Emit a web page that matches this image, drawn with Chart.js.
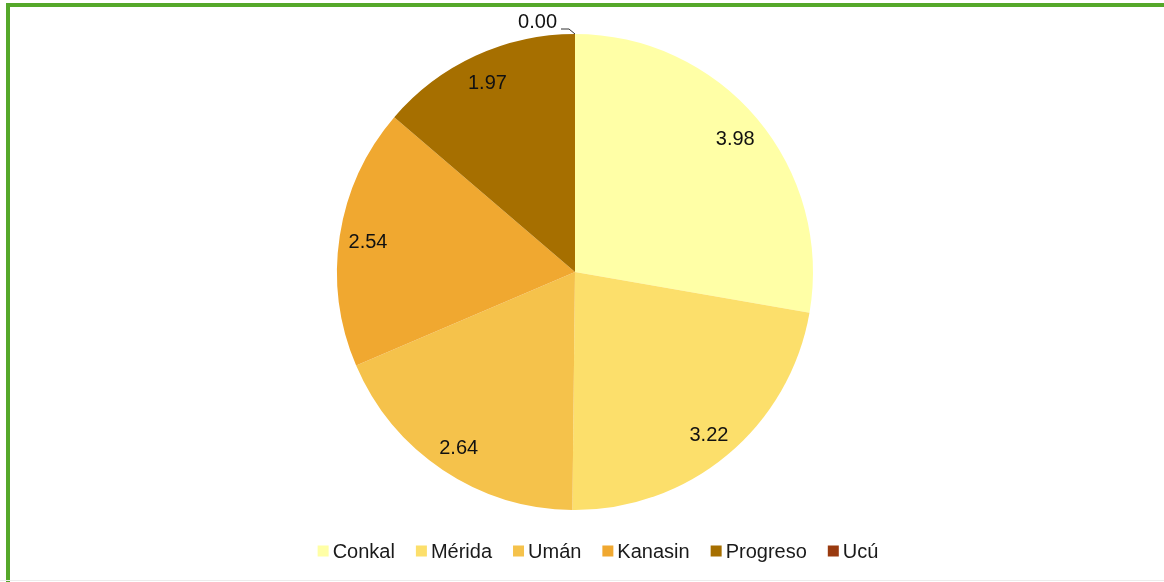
<!DOCTYPE html>
<html>
<head>
<meta charset="utf-8">
<script src="https://cdn.jsdelivr.net/npm/chart.js@4/dist/chart.umd.min.js"></script>
<style>
  html, body { margin: 0; padding: 0; background: #ffffff; overflow: hidden; }
  body { width: 1164px; height: 582px; position: relative; }
  #frame {
    position: absolute; left: 6px; top: 3px; width: 1200px; height: 620px;
    border: 4px solid #55a82a; box-sizing: border-box;
  }
  #baseLine { position: absolute; left: 0; top: 580px; width: 1164px; height: 1px; background: #ececec; }
  #wrap { position: absolute; left: 0; top: 0; width: 1164px; height: 582px; }
</style>
</head>
<body>
<div id="frame"></div>
<div id="baseLine"></div>
<div id="wrap"><canvas id="pie"></canvas></div>
<script>
const categories = ["Conkal", "Mérida", "Umán", "Kanasin", "Progreso", "Ucú"];
const values = [3.98, 3.22, 2.64, 2.54, 1.97, 0.00];
const colors = ["#ffffa6", "#fcdf6b", "#f5c24b", "#f0a830", "#a66f00", "#993a0f"];

const FONT = "Liberation Sans, Arial, sans-serif";

// value labels inside slices, zero values outside with a small leader line
const sliceLabels = {
  id: "sliceLabels",
  afterDatasetsDraw(chart) {
    const ctx = chart.ctx;
    const meta = chart.getDatasetMeta(0);
    ctx.save();
    ctx.font = "20px " + FONT;
    ctx.fillStyle = "#111111";
    meta.data.forEach((arc, i) => {
      const p = arc.getProps(["x", "y", "startAngle", "endAngle", "outerRadius"], true);
      const mid = (p.startAngle + p.endAngle) / 2;
      const text = values[i].toFixed(2);
      if (values[i] === 0) {
        const ex = p.x + Math.cos(mid) * p.outerRadius;
        const ey = p.y + Math.sin(mid) * p.outerRadius;
        ctx.strokeStyle = "#333333";
        ctx.lineWidth = 1;
        ctx.beginPath();
        ctx.moveTo(ex, ey);
        ctx.lineTo(ex - 6, ey - 5);
        ctx.lineTo(ex - 14, ey - 5);
        ctx.stroke();
        ctx.textAlign = "right";
        ctx.textBaseline = "middle";
        ctx.fillText(text, ex - 18, ey - 12);
        return;
      }
      const r = p.outerRadius * 0.88;
      ctx.textAlign = "center";
      ctx.textBaseline = "middle";
      ctx.fillText(text, p.x + Math.cos(mid) * r, p.y + Math.sin(mid) * r + 2);
    });
    ctx.restore();
  }
};

// legend row along the bottom
const bottomLegend = {
  id: "bottomLegend",
  afterDraw(chart) {
    const ctx = chart.ctx;
    const box = 11, gapText = 4, gapItem = 21;
    ctx.save();
    ctx.font = "20px " + FONT;
    const widths = categories.map((c) => ctx.measureText(c).width);
    const total = widths.reduce((s, w) => s + box + gapText + w, 0) + gapItem * (categories.length - 1);
    let x = 598 - total / 2;
    const y = 551;
    ctx.textBaseline = "middle";
    ctx.textAlign = "left";
    categories.forEach((c, i) => {
      ctx.fillStyle = colors[i];
      ctx.fillRect(x, y - box / 2, box, box);
      ctx.fillStyle = "#1a1a1a";
      ctx.fillText(c, x + box + gapText, y + 1);
      x += box + gapText + widths[i] + gapItem;
    });
    ctx.restore();
  }
};

new Chart(document.getElementById("pie"), {
  type: "pie",
  data: {
    labels: categories,
    datasets: [{
      data: values,
      backgroundColor: colors,
      borderWidth: 0
    }]
  },
  options: {
    responsive: true,
    maintainAspectRatio: false,
    animation: false,
    layout: { padding: { top: 34, bottom: 72, left: 0, right: 14 } },
    plugins: {
      legend: { display: false },
      tooltip: { enabled: false }
    }
  },
  plugins: [sliceLabels, bottomLegend]
});
</script>
</body>
</html>
